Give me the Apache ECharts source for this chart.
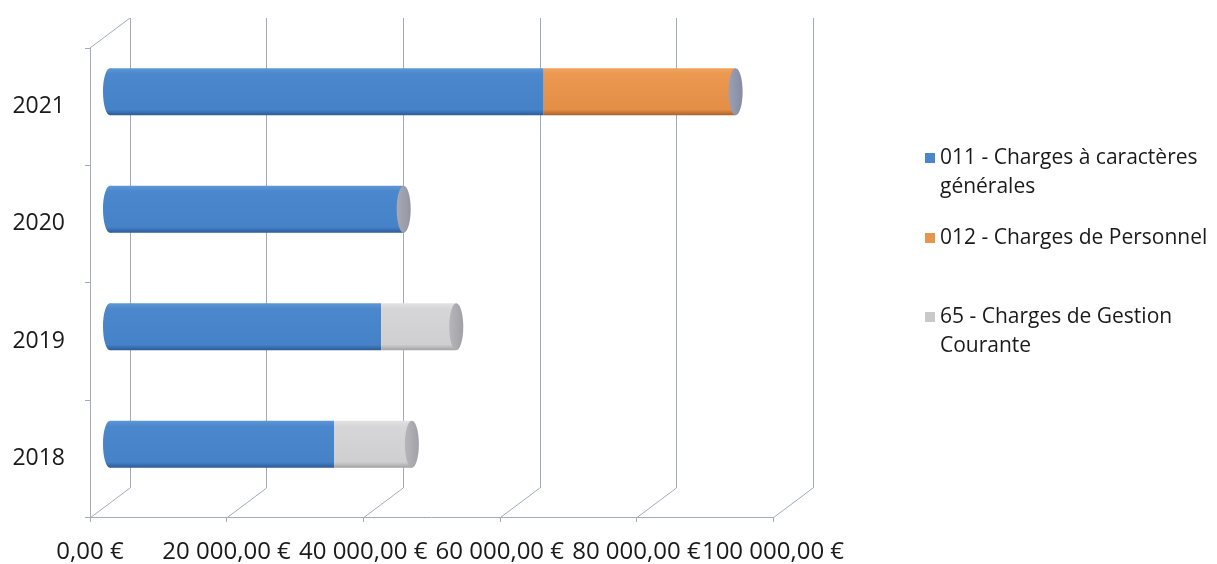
<!DOCTYPE html>
<html>
<head>
<meta charset="utf-8">
<script src="https://cdn.jsdelivr.net/npm/echarts@6/dist/echarts.min.js"></script>
<style>
html,body{margin:0;padding:0;background:#fff;}
#chart{width:1217px;height:564px;}
</style>
</head>
<body>
<div id="chart"></div>
<script>
// ---- data ----
var categories = ['2018', '2019', '2020', '2021'];
var seriesNames = ['011 - Charges à caractères générales', '012 - Charges de Personnel', '65 - Charges de Gestion Courante'];
var charges011 = [32800, 39700, 43000, 63500];
var charges012 = [0, 0, 0, 28100];
var charges65 = [11400, 11000, 0, 0];
var xTicks = [0, 20000, 40000, 60000, 80000, 100000];

var seriesVals = [charges011, charges012, charges65];

// ---- style / layout ----
var FONT = 'Open Sans';
var axisColor = '#a3abbb';
var front = {left: 90, top: 48, width: 683, height: 470};
var depth = {dx: 40, dy: -30};
var styles = [
  {color: '#4a86cc', grad: ['#5e97d6', '#4b87cd', '#4682c8', '#2d5a98'], cap: ['#a7aab4', '#9396a2']},
  {color: '#e9944c', grad: ['#f0a45e', '#eb9850', '#e48e46', '#a9612c'], cap: ['#9aa0b4', '#858ca3']},
  {color: '#c9c9c9', grad: ['#e2e2e4', '#d6d6d8', '#cfcfd1', '#a2a2a6'], cap: ['#b6b6ba', '#a0a0a6']}
];

function fmtEuro(v) {
  var s = v.toFixed(2).split('.');
  var intPart = s[0].replace(/\B(?=(\d{3})+(?!\d))/g, ' ');
  return intPart + ',' + s[1] + ' €';
}

function makeRender(sIdx) {
  return function (params, api) {
    var cat = api.value(0);
    var val = api.value(1);
    if (!val) return null;
    var start = 0;
    for (var k = 0; k < sIdx; k++) start += seriesVals[k][cat];
    var end = start + val;
    var isLast = true;
    for (var j = sIdx + 1; j < seriesVals.length; j++) if (seriesVals[j][cat]) isLast = false;
    var p0 = api.coord([start, cat]);
    var p1 = api.coord([end, cat]);
    var h = api.size([0, 1])[1] * 0.4;
    var rx = 7;
    var st = styles[sIdx];
    var grad = new echarts.graphic.LinearGradient(0, 0, 0, 1, [
      {offset: 0, color: st.grad[0]}, {offset: 0.12, color: st.grad[1]},
      {offset: 0.88, color: st.grad[2]}, {offset: 1, color: st.grad[3]}
    ]);
    var children = [];
    if (start === 0) {
      children.push({type: 'ellipse', shape: {cx: p0[0], cy: p0[1], rx: rx, ry: h / 2}, style: {fill: grad}});
    }
    children.push({type: 'rect', shape: {x: p0[0], y: p0[1] - h / 2, width: p1[0] - p0[0], height: h}, style: {fill: grad}});
    if (isLast) {
      var capGrad = new echarts.graphic.LinearGradient(0, 0, 1, 0, [
        {offset: 0, color: st.cap[0]}, {offset: 1, color: st.cap[1]}
      ]);
      children.push({type: 'ellipse', shape: {cx: p1[0], cy: p1[1], rx: rx, ry: h / 2}, style: {fill: capGrad}});
    }
    return {type: 'group', children: children};
  };
}

var chart = echarts.init(document.getElementById('chart'), null, {renderer: 'canvas'});

var mid = {left: front.left + depth.dx / 2, top: front.top + depth.dy / 2, width: front.width, height: front.height};
var back = {left: front.left + depth.dx, top: front.top + depth.dy, width: front.width, height: front.height};

var series = seriesNames.map(function (name, i) {
  return {
    name: name,
    type: 'custom',
    xAxisIndex: 1,
    yAxisIndex: 1,
    itemStyle: {color: styles[i].color},
    renderItem: makeRender(i),
    encode: {x: 1, y: 0},
    data: categories.map(function (c, ci) { return [ci, seriesVals[i][ci]]; }),
    z: 5
  };
});

// legend labels: a leading blank line keeps the first text line level with the swatch
var legendLabel = {};
legendLabel[seriesNames[0]] = '\n011 - Charges à caractères\ngénérales';
legendLabel[seriesNames[1]] = '012 - Charges de Personnel';
legendLabel[seriesNames[2]] = '\n65 - Charges de Gestion\nCourante';

function mkLegend(name, top) {
  return {
    data: [name],
    left: 920,
    top: top,
    orient: 'vertical',
    icon: 'rect',
    itemWidth: 10,
    itemHeight: 10,
    itemGap: 0,
    selectedMode: false,
    formatter: function (n) { return legendLabel[n]; },
    textStyle: {fontFamily: FONT, fontSize: 21, color: '#1a1a1a', lineHeight: 29}
  };
}

var option = {
  animation: false,
  backgroundColor: '#ffffff',
  grid: [
    {left: front.left, top: front.top, width: front.width, height: front.height},
    {left: mid.left, top: mid.top, width: mid.width, height: mid.height},
    {left: back.left, top: back.top, width: back.width, height: back.height}
  ],
  xAxis: [
    {
      gridIndex: 0, type: 'value', min: 0, max: 100000, interval: 20000,
      axisLine: {show: true, lineStyle: {color: axisColor, width: 1}},
      axisTick: {show: true, length: 5, lineStyle: {color: axisColor}},
      axisLabel: {fontFamily: FONT, fontSize: 24, color: '#1a1a1a', margin: 23, formatter: fmtEuro},
      splitLine: {show: false}
    },
    {
      gridIndex: 1, type: 'value', min: 0, max: 100000, interval: 20000, show: false
    },
    {
      gridIndex: 2, type: 'value', min: 0, max: 100000, interval: 20000,
      axisLine: {show: false}, axisTick: {show: false}, axisLabel: {show: false},
      splitLine: {show: true, lineStyle: {color: axisColor, width: 1}}
    }
  ],
  yAxis: [
    {
      gridIndex: 0, type: 'category', data: categories,
      axisLine: {show: true, lineStyle: {color: axisColor, width: 1}},
      axisTick: {show: true, length: 5, lineStyle: {color: axisColor}},
      axisLabel: {fontFamily: FONT, fontSize: 23, color: '#1a1a1a', margin: 25, padding: [10, 0, 0, 0]},
      splitLine: {show: false}
    },
    {gridIndex: 1, type: 'category', data: categories, show: false},
    {gridIndex: 2, type: 'category', data: categories, show: false, splitLine: {show: false}}
  ],
  legend: [
    mkLegend(seriesNames[0], 109.5),
    mkLegend(seriesNames[1], 218.5),
    mkLegend(seriesNames[2], 268.5)
  ],
  series: series
};

chart.setOption(option);

// depth connectors: from the front axes to the back wall
var lines = [];
var frontBottom = front.top + front.height;
var backBottom = back.top + back.height;
xTicks.forEach(function (v) {
  var fx = chart.convertToPixel({xAxisIndex: 0}, v);
  var bx = chart.convertToPixel({xAxisIndex: 2}, v);
  lines.push({type: 'line', shape: {x1: fx, y1: frontBottom, x2: bx, y2: backBottom},
    style: {stroke: axisColor, lineWidth: 1}, silent: true, z: 1});
});
var fx0 = chart.convertToPixel({xAxisIndex: 0}, xTicks[0]);
var bx0 = chart.convertToPixel({xAxisIndex: 2}, xTicks[0]);
lines.push({type: 'line', shape: {x1: fx0, y1: front.top, x2: bx0, y2: back.top},
  style: {stroke: axisColor, lineWidth: 1}, silent: true, z: 1});
chart.setOption({graphic: lines});
</script>
</body>
</html>
